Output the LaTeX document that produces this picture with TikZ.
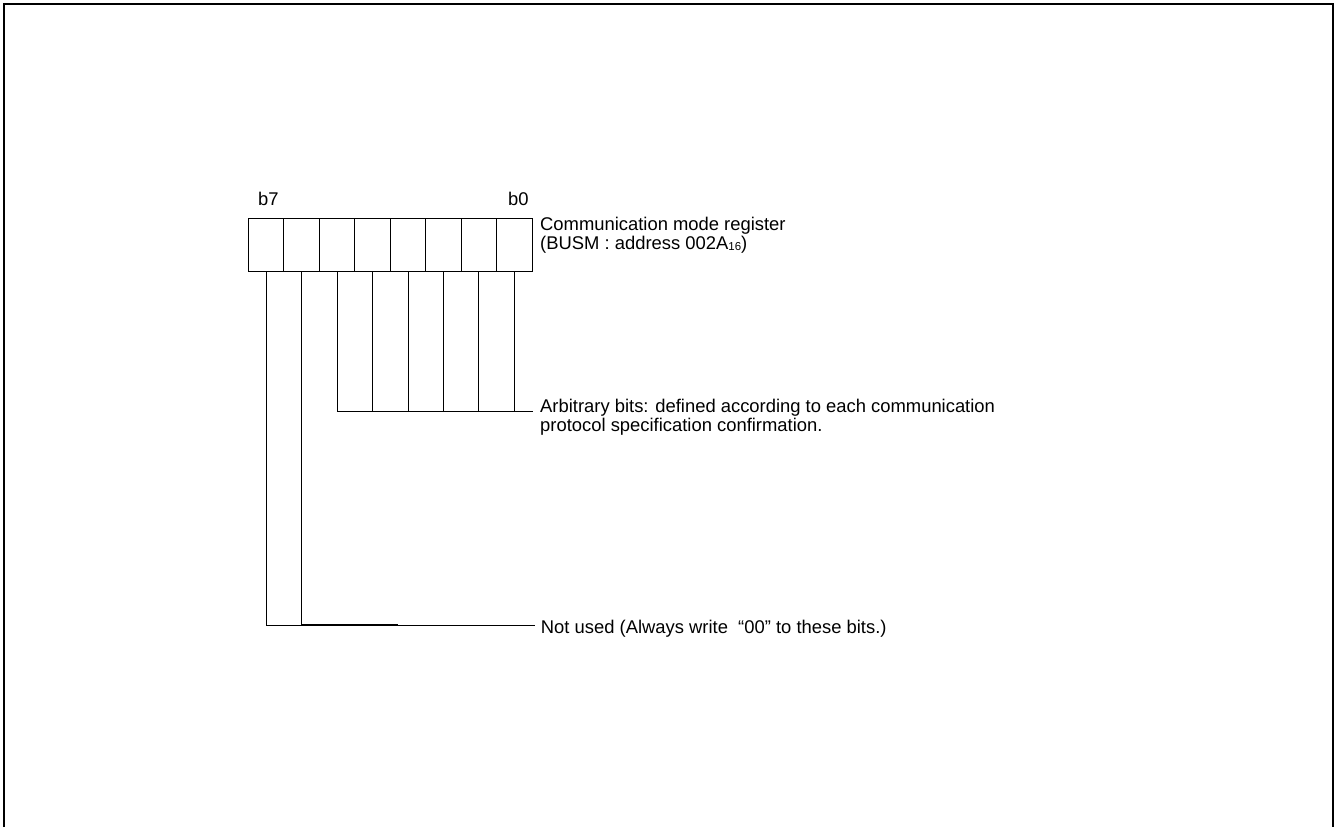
\documentclass[tikz,border=0pt]{standalone}
\usepackage{fontspec}
\setmainfont{Liberation Sans}
\usetikzlibrary{positioning,calc}

\begin{document}
\begin{tikzpicture}[x=1pt,y=-1pt, every node/.style={font=\fontsize{18.4}{16.5}\selectfont}]
\tikzstyle{cell}=[draw,line width=0.9pt,minimum width=35.44pt,minimum height=53pt,inner sep=0pt,outer sep=0pt]
\tikzstyle{lbl}=[inner sep=0pt,align=left,anchor=base west]
\tikzstyle{lead}=[line width=0.9pt]
\useasboundingbox (0,0) rectangle (1338,827);
% outer frame (open at the bottom)
\draw[line width=2pt] (4,827) -- (4,3.5) -- (1333,3.5) -- (1333,827);
% register cells b7 ... b0
\foreach \i in {7,...,0}
  \node[cell] (bit\i) at ({248.5+17.72+(7-\i)*35.44},244.5) {};
\node[lbl] (lb7) at (258,205) {b7};
\node[lbl] (lb0) at (508,205) {b0};
\node[lbl] (reg) at (540,249) {Communication mode register\\(BUSM : address 002A\raisebox{-1.5pt}{\fontsize{11.5}{12}\selectfont 16})};
% leader ends
\coordinate (arbend) at (533,411.7);
\coordinate (nuend) at (535,625);
\coordinate (nuthk) at (398,625);
\node[lbl] (arb) at (540,431) {Arbitrary bits: defined according to each communication\\protocol specification confirmation.};
\node[lbl] (nused) at (540.7,633) {Not used (Always write~ “00” to these bits.)};
% arbitrary bits
\foreach \i in {5,4,3,2,1,0}
  \draw[lead] (bit\i.south) -- (bit\i.south |- arbend);
\draw[lead] (bit5.south |- arbend) -- (arbend);
% not used bits
\draw[lead] (bit7.south) -- (bit7.south |- nuend);
\draw[lead] (bit6.south) -- (bit6.south |- nuend);
\draw[lead] (bit7.south |- nuend) -- (nuend);
\draw[line width=1.8pt] (bit6.south |- nuend) -- (nuthk);
\end{tikzpicture}
\end{document}
